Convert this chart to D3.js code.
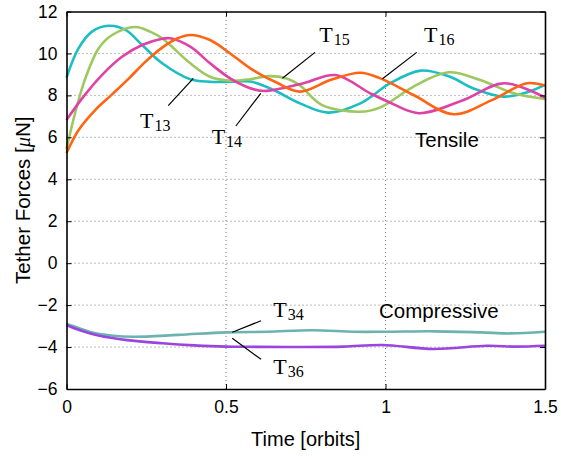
<!DOCTYPE html>
<html><head><meta charset="utf-8">
<script src="https://cdn.jsdelivr.net/npm/d3@7"></script>
<style>body{margin:0;background:#fff}svg{display:block}</style>
</head><body><svg id="c" width="561" height="457"></svg>
<script>
// ---- data (time in orbits, force in µN) ----
const xTicks = [0, 0.5, 1, 1.5];
const yTicks = [-6, -4, -2, 0, 2, 4, 6, 8, 10, 12];

const T13 = [[0,8.85],[0.038,10.25],[0.08,11.04],[0.132,11.32],[0.185,11.12],[0.237,10.4],[0.3,9.53],[0.388,8.77],[0.45,8.65],[0.513,8.65],[0.576,8.66],[0.649,8.26],[0.732,7.62],[0.82,7.18],[0.921,7.62],[1.015,8.58],[1.11,9.18],[1.2,8.9],[1.276,8.33],[1.371,7.94],[1.444,8.15],[1.5,8.5]];
const T14 = [[0,6.83],[0.049,7.86],[0.111,8.97],[0.174,9.84],[0.237,10.4],[0.3,10.7],[0.325,10.72],[0.388,10.32],[0.45,9.53],[0.513,8.81],[0.576,8.34],[0.62,8.21],[0.743,8.58],[0.843,8.97],[0.952,8.1],[1.015,7.65],[1.104,7.15],[1.245,7.78],[1.371,8.58],[1.5,7.9]];
const T15 = [[0,5.45],[0.028,7.22],[0.059,8.81],[0.101,10.25],[0.143,10.88],[0.216,11.26],[0.262,11.04],[0.3,10.72],[0.325,10.4],[0.388,9.53],[0.45,8.89],[0.513,8.7],[0.576,8.77],[0.633,8.92],[0.69,8.81],[0.73,8.5],[0.8,7.55],[0.92,7.22],[0.984,7.43],[1.088,8.42],[1.198,9.1],[1.297,8.73],[1.402,8.1],[1.5,7.83]];
const T16 = [[0,5.25],[0.038,6.35],[0.09,7.3],[0.143,8.05],[0.195,8.8],[0.247,9.6],[0.3,10.28],[0.345,10.7],[0.388,10.88],[0.45,10.64],[0.513,10.0],[0.576,9.29],[0.66,8.6],[0.733,8.18],[0.827,8.73],[0.921,9.08],[0.984,8.81],[1.088,8.02],[1.214,7.1],[1.33,7.75],[1.444,8.58],[1.5,8.47]];
const T34 = [[0,-2.9],[0.042,-3.11],[0.084,-3.32],[0.14,-3.45],[0.21,-3.51],[0.35,-3.42],[0.5,-3.3],[0.63,-3.27],[0.77,-3.2],[0.9,-3.27],[1.0,-3.27],[1.15,-3.25],[1.3,-3.3],[1.39,-3.35],[1.5,-3.27]];
const T36 = [[0,-2.95],[0.042,-3.2],[0.1,-3.45],[0.19,-3.67],[0.3,-3.82],[0.4,-3.92],[0.5,-3.98],[0.6,-3.99],[0.733,-4.0],[0.869,-3.98],[0.99,-3.9],[1.15,-4.09],[1.318,-3.94],[1.41,-3.98],[1.5,-3.94]];

const seriesNames = ["13","15","14","16","34","36"];
const seriesData  = [T13, T15, T14, T16, T34, T36];
const seriesColors = ["#1CBEC2","#9DC860","#DF42A6","#FF6412","#6CB2AE","#9A46DE"];

// annotation labels (positions in data units)
const labelSubs = ["13","14","15","16","34","36"];
const labelPos = [[0.2304,6.445],[0.455,5.68],[0.7925,10.56],[1.1207,10.56],[0.648,-2.58],[0.648,-5.285]];
const pointerFrom = [[0.319,7.508],[0.531,6.54],[0.779,10.05],[1.0978,10.05],[0.6097,-2.744],[0.5197,-3.583]];
const pointerTo   = [[0.3975,8.815],[0.609,8.10],[0.677,8.815],[0.9906,8.79],[0.5197,-3.297],[0.6097,-4.585]];
const regionText = ["Tensile","Compressive"];
const regionPos = [[1.0925,5.553],[0.9797,-2.615]];

// ---- drawing ----
const svg = d3.select("#c");
const x = d3.scaleLinear().domain([0,1.5]).range([66.5,545]);
const y = d3.scaleLinear().domain([-6,12]).range([389,11.5]);
const sans = "'Liberation Sans', Arial, Helvetica, sans-serif";
const serif = "'Liberation Serif', 'Times New Roman', serif";

// grid
const grid = svg.append("g");
grid.selectAll("line.gx").data(xTicks.slice(1,-1)).join("line")
  .attr("x1",d=>x(d)).attr("x2",d=>x(d)).attr("y1",y(-6)).attr("y2",y(12))
  .attr("stroke","#555").attr("stroke-width",0.8).attr("stroke-dasharray","1,3");
grid.selectAll("line.gy").data(yTicks.slice(1,-1)).join("line")
  .attr("y1",d=>y(d)).attr("y2",d=>y(d)).attr("x1",x(0)).attr("x2",x(1.5))
  .attr("stroke","#555").attr("stroke-width",0.8).attr("stroke-dasharray","1,3");

// series
const line = d3.line().x(d=>x(d[0])).y(d=>y(d[1])).curve(d3.curveCatmullRom.alpha(0.5));
svg.append("g").selectAll("path").data(seriesData).join("path")
  .attr("d",line).attr("fill","none")
  .attr("stroke",(d,i)=>seriesColors[i]).attr("stroke-width",2.6)
  .attr("stroke-linejoin","round");

// axes (MATLAB-like box with inward ticks)
const axB = d3.axisBottom(x).tickValues(xTicks).tickSizeInner(-5).tickSizeOuter(0).tickPadding(12).tickFormat(d3.format("~g"));
const axT = d3.axisTop(x).tickValues(xTicks).tickSizeInner(-5).tickSizeOuter(0).tickFormat("");
const axL = d3.axisLeft(y).tickValues(yTicks).tickSizeInner(-5).tickSizeOuter(0).tickPadding(9).tickFormat(d3.format("~g"));
const axR = d3.axisRight(y).tickValues(yTicks).tickSizeInner(-5).tickSizeOuter(0).tickFormat("");
function styleAx(g){
  g.select(".domain").attr("stroke","#000").attr("stroke-width",1.6);
  g.selectAll(".tick line").attr("stroke","#000").attr("stroke-width",1);
  g.selectAll(".tick text").attr("font-family",sans).attr("font-size",17.5).attr("fill","#000");
}
svg.append("g").attr("transform",`translate(0,${y(-6)})`).call(axB).call(styleAx);
svg.append("g").attr("transform",`translate(0,${y(12)})`).call(axT).call(styleAx);
svg.append("g").attr("transform",`translate(${x(0)},0)`).call(axL).call(styleAx);
svg.append("g").attr("transform",`translate(${x(1.5)},0)`).call(axR).call(styleAx);

// axis titles
svg.append("text").attr("x",(x(0)+x(1.5))/2).attr("y",446).attr("text-anchor","middle")
  .attr("font-family",sans).attr("font-size",20).text("Time [orbits]");
const yl = svg.append("text").attr("transform",`translate(30,${(y(-6)+y(12))/2}) rotate(-90)`)
  .attr("text-anchor","middle").attr("font-family",sans).attr("font-size",20.5);
yl.append("tspan").text("Tether Forces [");
yl.append("tspan").attr("font-family",serif).attr("font-style","italic").text("μ");
yl.append("tspan").text("N]");

// pointers
svg.append("g").selectAll("line").data(pointerFrom).join("line")
  .attr("x1",d=>x(d[0])).attr("y1",d=>y(d[1]))
  .attr("x2",(d,i)=>x(pointerTo[i][0])).attr("y2",(d,i)=>y(pointerTo[i][1]))
  .attr("stroke","#000").attr("stroke-width",1.2);

// series labels
const lab = svg.append("g").selectAll("text").data(labelSubs).join("text")
  .attr("x",(d,i)=>x(labelPos[i][0])).attr("y",(d,i)=>y(labelPos[i][1]))
  .attr("font-family",serif).attr("font-size",22).attr("fill","#000");
lab.append("tspan").text("T");
lab.append("tspan").attr("font-size",16).attr("dx",1).attr("dy",3).text(d=>d);

// region labels
svg.append("g").selectAll("text").data(regionText).join("text")
  .attr("x",(d,i)=>x(regionPos[i][0])).attr("y",(d,i)=>y(regionPos[i][1]))
  .attr("font-family",sans).attr("font-size",20.5).attr("fill","#000").text(d=>d);
</script></body></html>
